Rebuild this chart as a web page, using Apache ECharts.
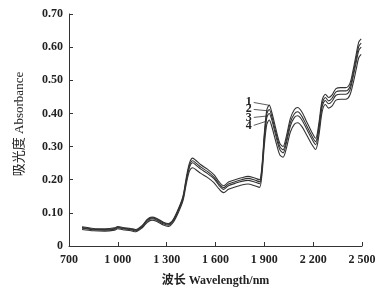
<!DOCTYPE html>
<html>
<head>
<meta charset="utf-8">
<script src="https://cdn.jsdelivr.net/npm/echarts@6/dist/echarts.min.js"></script>
<style>
  html, body { margin: 0; padding: 0; background: #fff; }
  #chart1 { width: 386px; height: 297px; }
</style>
</head>
<body>
<div id="chart1"></div>
<script>
// wavelength (nm)
var wavelength = [780, 850, 920, 980, 1000, 1030, 1080, 1110, 1150, 1180, 1210, 1240, 1280, 1310, 1340, 1370,
  1400, 1420, 1440, 1460, 1480, 1510, 1550, 1590, 1620, 1650, 1680, 1720, 1760, 1800, 1840, 1870,
  1885, 1900, 1915, 1930, 1945, 1970, 1995, 2015, 2035, 2060, 2085, 2105, 2130, 2160, 2190, 2215,
  2235, 2255, 2275, 2295, 2315, 2340, 2370, 2400, 2425, 2445, 2465, 2480, 2495];

var curve1 = [.058, .053, .052, .055, .059, .056, .053, .050, .062, .080, .087, .083, .072, .068, .080, .110,
  .150, .205, .250, .265, .258, .245, .232, .215, .195, .182, .193, .200, .206, .210, .205, .200,
  .240, .340, .410, .425, .405, .355, .310, .300, .330, .385, .412, .418, .405, .375, .345, .325,
  .370, .440, .458, .448, .455, .475, .478, .478, .490, .530, .580, .615, .625];
var curve2 = [.056, .051, .050, .053, .057, .054, .051, .048, .060, .078, .085, .081, .070, .066, .078, .107,
  .146, .199, .243, .257, .250, .238, .225, .208, .189, .176, .187, .194, .200, .204, .199, .194,
  .233, .330, .398, .412, .393, .344, .300, .290, .319, .373, .399, .405, .392, .363, .334, .315,
  .360, .430, .448, .438, .445, .465, .468, .468, .480, .519, .568, .602, .612];
var curve3 = [.054, .049, .048, .051, .055, .052, .049, .046, .058, .075, .082, .078, .067, .063, .075, .104,
  .142, .194, .237, .251, .244, .232, .219, .203, .184, .171, .182, .189, .195, .198, .193, .188,
  .226, .321, .387, .400, .382, .334, .291, .281, .310, .362, .388, .393, .381, .353, .325, .306,
  .350, .420, .439, .429, .436, .455, .458, .458, .470, .509, .556, .590, .600];
var curve4 = [.050, .046, .045, .048, .052, .049, .046, .043, .055, .071, .078, .074, .063, .059, .071, .099,
  .136, .186, .226, .236, .230, .219, .207, .191, .173, .161, .171, .178, .184, .187, .182, .177,
  .214, .304, .367, .380, .362, .316, .275, .268, .294, .344, .368, .372, .361, .335, .308, .291,
  .333, .405, .427, .416, .422, .440, .443, .443, .455, .490, .535, .568, .578];

var curveNames = ['1', '2', '3', '4'];
// leader lines for the curve numbers: [label end, curve end]
var leaderStart = [[1835, 0.433], [1835, 0.412], [1835, 0.388], [1835, 0.364]];
var leaderEnd = [[1926, 0.425], [1921, 0.408], [1912, 0.392], [1910, 0.376]];

var xTicks = [700, 1000, 1300, 1600, 1900, 2200, 2500];

var serif = '"Liberation Serif", "DejaVu Serif", serif';

function pairs(ys) {
  return wavelength.map(function (w, i) { return [w, ys[i]]; });
}

function fmtX(v) {
  var s = String(v);
  return s.length > 3 ? s.slice(0, s.length - 3) + ' ' + s.slice(-3) : s;
}

var allCurves = [curve1, curve2, curve3, curve4];

var option = {
  animation: false,
  backgroundColor: '#fff',
  grid: { left: 69, right: 24, top: 14, bottom: 51 },
  xAxis: {
    type: 'value',
    min: 700,
    max: 2500,
    interval: 300,
    name: '波长 Wavelength/nm',
    nameLocation: 'middle',
    nameGap: 29,
    nameTextStyle: { fontFamily: '"Liberation Serif", "Noto Sans CJK SC", serif', fontSize: 12, fontWeight: 'bold', color: '#222' },
    axisLine: { lineStyle: { color: '#333', width: 1 } },
    axisTick: { inside: true, length: 4, customValues: xTicks, lineStyle: { color: '#333' } },
    axisLabel: { customValues: xTicks, formatter: fmtX, margin: 8, fontFamily: serif, fontSize: 12, fontWeight: 'bold', color: '#222' },
    splitLine: { show: false }
  },
  yAxis: {
    type: 'value',
    min: 0,
    max: 0.7,
    interval: 0.1,
    name: '吸光度 Absorbance',
    nameLocation: 'middle',
    nameGap: 43,
    nameTextStyle: { fontFamily: '"Liberation Serif", "Noto Sans CJK SC", serif', fontSize: 13, color: '#222', padding: [0, 0, 0, 12] },
    axisLine: { show: true, lineStyle: { color: '#333', width: 1 } },
    axisTick: { show: true, inside: true, length: 4, lineStyle: { color: '#333' } },
    axisLabel: {
      formatter: function (v) { return v === 0 ? '0' : v.toFixed(2); },
      margin: 6, fontFamily: serif, fontSize: 12, fontWeight: 'bold', color: '#222'
    },
    splitLine: { show: false }
  },
  series: allCurves.map(function (c, i) {
    return {
      type: 'line',
      name: curveNames[i],
      data: pairs(c),
      smooth: 0.3,
      symbol: 'none',
      lineStyle: { color: '#333', width: 1.1 },
      markLine: {
        silent: true,
        symbol: 'none',
        lineStyle: { color: '#333', width: 0.8, type: 'solid' },
        label: { show: true, position: 'start', formatter: curveNames[i], fontFamily: serif, fontSize: 12, fontWeight: 'bold', color: '#222', distance: 2 },
        data: [[{ coord: leaderStart[i] }, { coord: leaderEnd[i] }]]
      }
    };
  })
};

var chart = echarts.init(document.getElementById('chart1'));
chart.setOption(option);
</script>
</body>
</html>
